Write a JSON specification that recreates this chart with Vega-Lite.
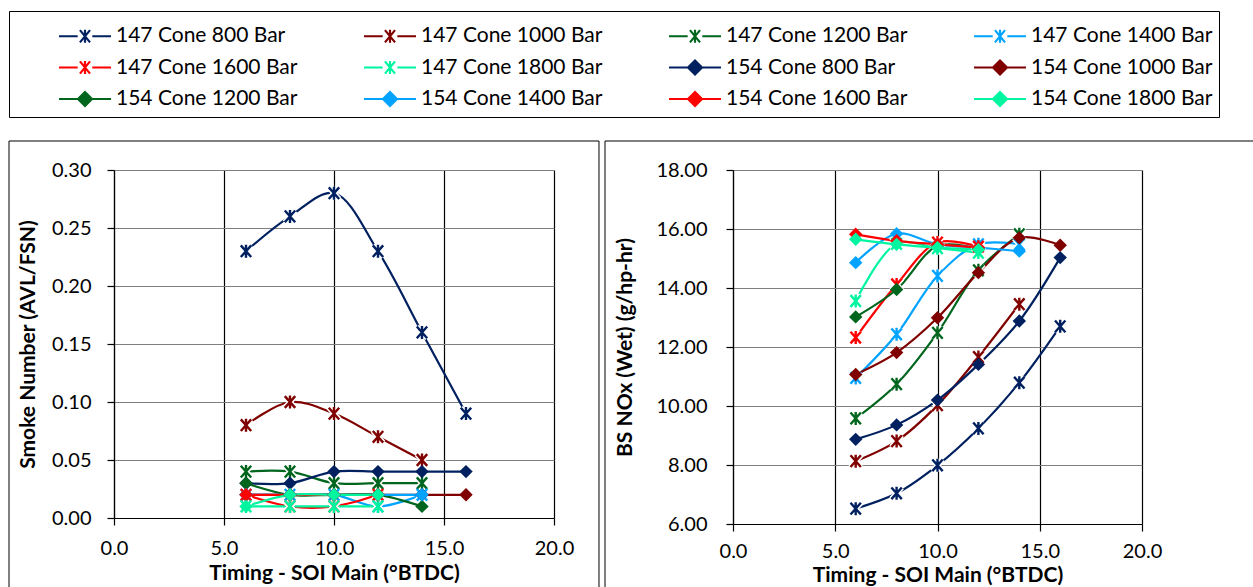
{
  "$schema": "https://vega.github.io/schema/vega-lite/v6.json",
  "padding": {"left": 8, "top": 10, "right": 0, "bottom": 0},
  "background": "white",
  "datasets": {
    "runs": [
      {"series": "147 Cone 800 Bar", "soi": 6, "smoke": 0.23, "nox": 6.52},
      {"series": "147 Cone 800 Bar", "soi": 8, "smoke": 0.26, "nox": 7.04},
      {"series": "147 Cone 800 Bar", "soi": 10, "smoke": 0.28, "nox": 7.99},
      {"series": "147 Cone 800 Bar", "soi": 12, "smoke": 0.23, "nox": 9.24},
      {"series": "147 Cone 800 Bar", "soi": 14, "smoke": 0.16, "nox": 10.79},
      {"series": "147 Cone 800 Bar", "soi": 16, "smoke": 0.09, "nox": 12.70},
      {"series": "147 Cone 1000 Bar", "soi": 6, "smoke": 0.08, "nox": 8.13},
      {"series": "147 Cone 1000 Bar", "soi": 8, "smoke": 0.10, "nox": 8.81},
      {"series": "147 Cone 1000 Bar", "soi": 10, "smoke": 0.09, "nox": 10.03},
      {"series": "147 Cone 1000 Bar", "soi": 12, "smoke": 0.07, "nox": 11.66},
      {"series": "147 Cone 1000 Bar", "soi": 14, "smoke": 0.05, "nox": 13.45},
      {"series": "147 Cone 1200 Bar", "soi": 6, "smoke": 0.04, "nox": 9.58},
      {"series": "147 Cone 1200 Bar", "soi": 8, "smoke": 0.04, "nox": 10.74},
      {"series": "147 Cone 1200 Bar", "soi": 10, "smoke": 0.03, "nox": 12.48},
      {"series": "147 Cone 1200 Bar", "soi": 12, "smoke": 0.03, "nox": 14.60},
      {"series": "147 Cone 1200 Bar", "soi": 14, "smoke": 0.03, "nox": 15.82},
      {"series": "147 Cone 1400 Bar", "soi": 6, "smoke": 0.02, "nox": 10.95},
      {"series": "147 Cone 1400 Bar", "soi": 8, "smoke": 0.02, "nox": 12.43},
      {"series": "147 Cone 1400 Bar", "soi": 10, "smoke": 0.02, "nox": 14.41},
      {"series": "147 Cone 1400 Bar", "soi": 12, "smoke": 0.01, "nox": 15.48},
      {"series": "147 Cone 1400 Bar", "soi": 14, "smoke": 0.02, "nox": 15.48},
      {"series": "147 Cone 1600 Bar", "soi": 6, "smoke": 0.02, "nox": 12.32},
      {"series": "147 Cone 1600 Bar", "soi": 8, "smoke": 0.01, "nox": 14.12},
      {"series": "147 Cone 1600 Bar", "soi": 10, "smoke": 0.01, "nox": 15.54},
      {"series": "147 Cone 1600 Bar", "soi": 12, "smoke": 0.02, "nox": 15.40},
      {"series": "147 Cone 1800 Bar", "soi": 6, "smoke": 0.01, "nox": 13.56},
      {"series": "147 Cone 1800 Bar", "soi": 8, "smoke": 0.01, "nox": 15.50},
      {"series": "147 Cone 1800 Bar", "soi": 10, "smoke": 0.01, "nox": 15.35},
      {"series": "147 Cone 1800 Bar", "soi": 12, "smoke": 0.01, "nox": 15.20},
      {"series": "154 Cone 800 Bar", "soi": 6, "smoke": 0.03, "nox": 8.87},
      {"series": "154 Cone 800 Bar", "soi": 8, "smoke": 0.03, "nox": 9.36},
      {"series": "154 Cone 800 Bar", "soi": 10, "smoke": 0.04, "nox": 10.20},
      {"series": "154 Cone 800 Bar", "soi": 12, "smoke": 0.04, "nox": 11.41},
      {"series": "154 Cone 800 Bar", "soi": 14, "smoke": 0.04, "nox": 12.88},
      {"series": "154 Cone 800 Bar", "soi": 16, "smoke": 0.04, "nox": 15.03},
      {"series": "154 Cone 1000 Bar", "soi": 6, "smoke": 0.02, "nox": 11.07},
      {"series": "154 Cone 1000 Bar", "soi": 8, "smoke": 0.02, "nox": 11.81},
      {"series": "154 Cone 1000 Bar", "soi": 10, "smoke": 0.02, "nox": 12.99},
      {"series": "154 Cone 1000 Bar", "soi": 12, "smoke": 0.02, "nox": 14.52},
      {"series": "154 Cone 1000 Bar", "soi": 14, "smoke": 0.02, "nox": 15.70},
      {"series": "154 Cone 1000 Bar", "soi": 16, "smoke": 0.02, "nox": 15.45},
      {"series": "154 Cone 1200 Bar", "soi": 6, "smoke": 0.03, "nox": 13.02},
      {"series": "154 Cone 1200 Bar", "soi": 8, "smoke": 0.02, "nox": 13.95},
      {"series": "154 Cone 1200 Bar", "soi": 10, "smoke": 0.02, "nox": 15.42},
      {"series": "154 Cone 1200 Bar", "soi": 12, "smoke": 0.02, "nox": 15.33},
      {"series": "154 Cone 1200 Bar", "soi": 14, "smoke": 0.01, "nox": null},
      {"series": "154 Cone 1400 Bar", "soi": 6, "smoke": 0.02, "nox": 14.86},
      {"series": "154 Cone 1400 Bar", "soi": 8, "smoke": 0.02, "nox": 15.84},
      {"series": "154 Cone 1400 Bar", "soi": 10, "smoke": 0.02, "nox": 15.48},
      {"series": "154 Cone 1400 Bar", "soi": 12, "smoke": 0.02, "nox": 15.37},
      {"series": "154 Cone 1400 Bar", "soi": 14, "smoke": 0.02, "nox": 15.25},
      {"series": "154 Cone 1600 Bar", "soi": 6, "smoke": 0.02, "nox": 15.82},
      {"series": "154 Cone 1600 Bar", "soi": 8, "smoke": 0.02, "nox": 15.60},
      {"series": "154 Cone 1600 Bar", "soi": 10, "smoke": 0.02, "nox": 15.48},
      {"series": "154 Cone 1600 Bar", "soi": 12, "smoke": 0.02, "nox": 15.37},
      {"series": "154 Cone 1800 Bar", "soi": 6, "smoke": 0.01, "nox": 15.65},
      {"series": "154 Cone 1800 Bar", "soi": 8, "smoke": 0.02, "nox": 15.48},
      {"series": "154 Cone 1800 Bar", "soi": 10, "smoke": 0.02, "nox": 15.37},
      {"series": "154 Cone 1800 Bar", "soi": 12, "smoke": 0.02, "nox": 15.30}
    ]
  },
  "data": {"name": "runs"},
  "spacing": 4,
  "hconcat": [
    {
      "width": 440,
      "height": 348,
      "layer": [
        {
          "data": {"values": [{"frame": "smoke"}]},
          "mark": {"type": "rect", "filled": false, "color": "#000", "strokeWidth": 1, "clip": false},
          "encoding": {
            "x": {"datum": -4.7727},
            "x2": {"datum": 22.045},
            "y": {"datum": 0.325},
            "y2": {"datum": -0.072}
          }
        },
        {
          "encoding": {
            "x": {"field": "soi", "type": "quantitative",
              "scale": {"domain": [0, 20], "nice": false, "zero": false},
              "axis": {"values": [0, 5, 10, 15, 20], "format": ".1f", "title": "Timing - SOI Main (°BTDC)", "tickSize": 7, "labelPadding": 13, "titlePadding": 4}},
            "y": {"field": "smoke", "type": "quantitative",
              "scale": {"domain": [0, 0.3], "nice": false, "zero": false},
              "axis": {"values": [0, 0.05, 0.1, 0.15, 0.2, 0.25, 0.3], "format": ".2f", "title": "Smoke Number (AVL/FSN)", "tickSize": 7, "labelPadding": 16, "titlePadding": 13}}
          },
          "layer": [
            {
              "mark": {"type": "line", "interpolate": "catmull-rom", "strokeWidth": 2.2},
              "encoding": {
                "color": {"field": "series", "type": "nominal",
                  "scale": {"domain": ["147 Cone 800 Bar", "147 Cone 1000 Bar", "147 Cone 1200 Bar", "147 Cone 1400 Bar", "147 Cone 1600 Bar", "147 Cone 1800 Bar", "154 Cone 800 Bar", "154 Cone 1000 Bar", "154 Cone 1200 Bar", "154 Cone 1400 Bar", "154 Cone 1600 Bar", "154 Cone 1800 Bar"],
                    "range": ["#002060", "#800000", "#00661e", "#00a3ff", "#ff0000", "#00f5a0", "#002060", "#800000", "#00661e", "#00a3ff", "#ff0000", "#00f5a0"]}}
              }
            },
            {
              "transform": [{"filter": "indexof(datum.series, '147') == 0"}],
              "mark": {"type": "point", "shape": "M-0.8,-0.9L0.8,0.9M-0.8,0.9L0.8,-0.9M0,-1L0,1", "size": 169, "filled": false, "stroke": "white", "strokeWidth": 5.5, "opacity": 1}
            },
            {
              "transform": [{"filter": "indexof(datum.series, '147') == 0"}],
              "mark": {"type": "point", "shape": "M-0.8,-0.9L0.8,0.9M-0.8,0.9L0.8,-0.9M0,-1L0,1", "size": 169, "filled": false, "strokeWidth": 2.4, "opacity": 1},
              "encoding": {"color": {"field": "series", "type": "nominal"}}
            },
            {
              "transform": [{"filter": "indexof(datum.series, '154') == 0"}],
              "mark": {"type": "point", "shape": "diamond", "size": 180, "filled": true, "opacity": 1},
              "encoding": {"color": {"field": "series", "type": "nominal"}}
            },
            {
              "mark": {"type": "point", "filled": true, "opacity": 0},
              "encoding": {
                "color": {"field": "series", "type": "nominal",
                  "legend": {"title": "\u2003",
                    "encode": {"symbols": {"update": {"fill": {"scale": "color", "field": "value"}, "stroke": {"scale": "color", "field": "value"}, "opacity": {"value": 1}, "strokeWidth": {"value": 2.2}}}}}},
                "shape": {"field": "series", "type": "nominal",
                  "scale": {"domain": ["147 Cone 800 Bar", "147 Cone 1000 Bar", "147 Cone 1200 Bar", "147 Cone 1400 Bar", "147 Cone 1600 Bar", "147 Cone 1800 Bar", "154 Cone 800 Bar", "154 Cone 1000 Bar", "154 Cone 1200 Bar", "154 Cone 1400 Bar", "154 Cone 1600 Bar", "154 Cone 1800 Bar"],
                    "range": [
                      "M-1.494,0L-0.42,0M0.42,0L1.494,0M-0.29,-0.35L0.29,0.35M-0.29,0.35L0.29,-0.35M0,-0.38L0,0.38",
                      "M-1.494,0L-0.42,0M0.42,0L1.494,0M-0.29,-0.35L0.29,0.35M-0.29,0.35L0.29,-0.35M0,-0.38L0,0.38",
                      "M-1.494,0L-0.42,0M0.42,0L1.494,0M-0.29,-0.35L0.29,0.35M-0.29,0.35L0.29,-0.35M0,-0.38L0,0.38",
                      "M-1.494,0L-0.42,0M0.42,0L1.494,0M-0.29,-0.35L0.29,0.35M-0.29,0.35L0.29,-0.35M0,-0.38L0,0.38",
                      "M-1.494,0L-0.42,0M0.42,0L1.494,0M-0.29,-0.35L0.29,0.35M-0.29,0.35L0.29,-0.35M0,-0.38L0,0.38",
                      "M-1.494,0L-0.42,0M0.42,0L1.494,0M-0.29,-0.35L0.29,0.35M-0.29,0.35L0.29,-0.35M0,-0.38L0,0.38",
                      "M-1.494,0L1.494,0M0,-0.4L0.4,0L0,0.4L-0.4,0Z",
                      "M-1.494,0L1.494,0M0,-0.4L0.4,0L0,0.4L-0.4,0Z",
                      "M-1.494,0L1.494,0M0,-0.4L0.4,0L0,0.4L-0.4,0Z",
                      "M-1.494,0L1.494,0M0,-0.4L0.4,0L0,0.4L-0.4,0Z",
                      "M-1.494,0L1.494,0M0,-0.4L0.4,0L0,0.4L-0.4,0Z",
                      "M-1.494,0L1.494,0M0,-0.4L0.4,0L0,0.4L-0.4,0Z"
                    ]},
                  "legend": {"title": "\u2003"}}
              }
            }
          ]
        }
      ]
    },
    {
      "width": 409,
      "height": 354,
      "layer": [
        {
          "data": {"values": [{"frame": "nox"}]},
          "mark": {"type": "rect", "filled": false, "color": "#000", "strokeWidth": 1, "clip": false},
          "encoding": {
            "x": {"datum": -6.259},
            "x2": {"datum": 25.477},
            "y": {"datum": 18.983},
            "y2": {"datum": 3.39}
          }
        },
        {
          "encoding": {
            "x": {"field": "soi", "type": "quantitative",
              "scale": {"domain": [0, 20], "nice": false, "zero": false},
              "axis": {"values": [0, 5, 10, 15, 20], "format": ".1f", "title": "Timing - SOI Main (°BTDC)", "tickSize": 7, "labelPadding": 10, "titlePadding": 3}},
            "y": {"field": "nox", "type": "quantitative",
              "scale": {"domain": [6, 18], "nice": false, "zero": false},
              "axis": {"values": [6, 8, 10, 12, 14, 16, 18], "format": ".2f", "title": "BS NOx (Wet) (g/hp-hr)", "tickSize": 7, "labelPadding": 19, "titlePadding": 20}}
          },
          "layer": [
            {
              "mark": {"type": "line", "interpolate": "catmull-rom", "strokeWidth": 2.2},
              "encoding": {"color": {"field": "series", "type": "nominal"}}
            },
            {
              "transform": [{"filter": "indexof(datum.series, '147') == 0"}],
              "mark": {"type": "point", "shape": "M-0.8,-0.9L0.8,0.9M-0.8,0.9L0.8,-0.9M0,-1L0,1", "size": 169, "filled": false, "stroke": "white", "strokeWidth": 5.5, "opacity": 1}
            },
            {
              "transform": [{"filter": "indexof(datum.series, '147') == 0"}],
              "mark": {"type": "point", "shape": "M-0.8,-0.9L0.8,0.9M-0.8,0.9L0.8,-0.9M0,-1L0,1", "size": 169, "filled": false, "strokeWidth": 2.4, "opacity": 1},
              "encoding": {"color": {"field": "series", "type": "nominal"}}
            },
            {
              "transform": [{"filter": "indexof(datum.series, '154') == 0"}],
              "mark": {"type": "point", "shape": "diamond", "size": 180, "filled": true, "opacity": 1},
              "encoding": {"color": {"field": "series", "type": "nominal"}}
            }
          ]
        }
      ]
    }
  ],
  "resolve": {
    "scale": {"x": "independent", "y": "independent", "color": "shared", "shape": "shared"},
    "legend": {"color": "shared", "shape": "shared"}
  },
  "config": {
    "font": "Lato",
    "view": {"stroke": null},
    "axis": {
      "labelFont": "Lato", "labelFontSize": 20, "labelColor": "#000",
      "titleFont": "Lato", "titleFontSize": 21, "titleFontWeight": "bold", "titleColor": "#000",
      "domainColor": "#000", "domainWidth": 1.2, "tickColor": "#000", "tickWidth": 1.2,
      "grid": true, "gridWidth": 1.2, "labelFlush": false, "labelOverlap": false
    },
    "axisX": {"gridColor": "#000"},
    "axisY": {"gridColor": "#7f7f7f"},
    "legend": {
      "orient": "none", "legendX": -105, "legendY": -159, "direction": "horizontal",
      "columns": 4, "gridAlign": "all", "columnPadding": 62, "rowPadding": 1.5,
      "padding": 6.5, "strokeColor": "#000", "fillColor": "white",
      "symbolSize": 1211, "symbolStrokeWidth": 2.2, "symbolOpacity": 1,
      "labelFont": "Lato", "labelFontSize": 21, "labelColor": "#000", "labelOffset": 12.5, "labelLimit": 400,
      "titleOrient": "left", "titlePadding": 51, "titleFontSize": 14
    }
  }
}
